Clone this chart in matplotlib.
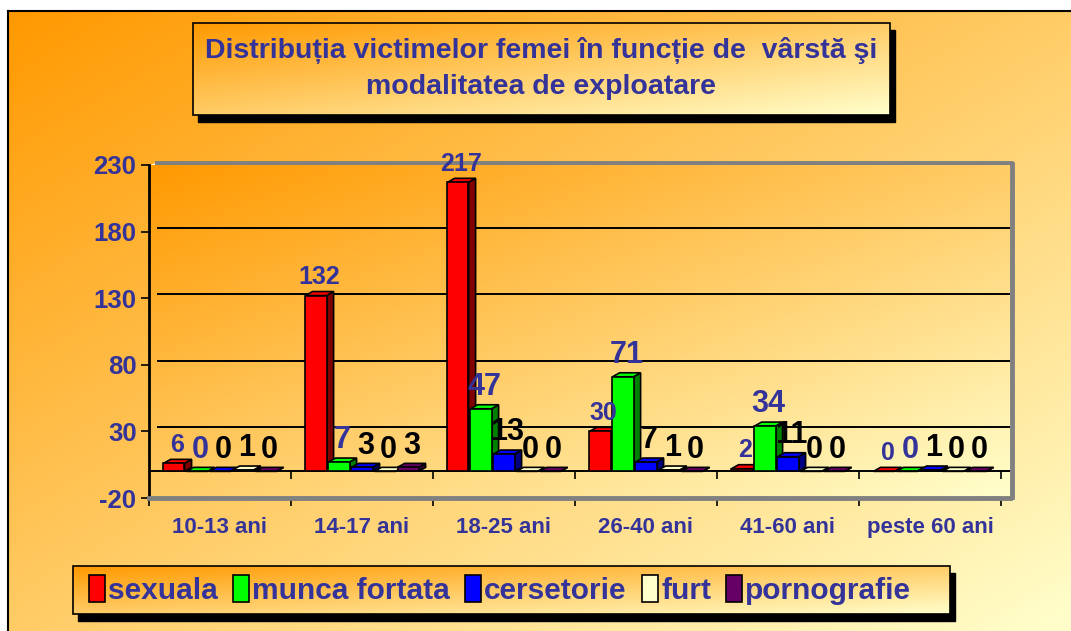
import numpy as np
import matplotlib
matplotlib.use('Agg')
import matplotlib.pyplot as plt
from matplotlib.patches import Rectangle, Polygon, Patch

plt.rcParams['font.family'] = ['Liberation Sans', 'DejaVu Sans']
plt.rcParams['font.weight'] = 'bold'

# date
categorii = ['10-13 ani', '14-17 ani', '18-25 ani', '26-40 ani', '41-60 ani', 'peste 60 ani']
serii = ['sexuala', 'munca fortata', 'cersetorie', 'furt', 'pornografie']
sexuala = [6, 132, 217, 30, 2, 0]
munca_fortata = [0, 7, 47, 71, 34, 0]
cersetorie = [0, 3, 13, 7, 11, 1]
furt = [1, 0, 0, 1, 0, 0]
pornografie = [0, 3, 0, 0, 0, 0]
valori = [sexuala, munca_fortata, cersetorie, furt, pornografie]

culori = ['#FF0000', '#00FF00', '#0000FF', '#FFFFCC', '#660066']
laterale = ['#800000', '#008000', '#000080', '#C8C8A8', '#330033']
culori_etichete = ['#333399', '#333399', 'black', 'black', 'black']
marimi_etichete = [18, 22, 22, 22, 22]
yticks = [-20, 30, 80, 130, 180, 230]

NAVY = '#333399'
W, H = 1071, 631


def gradient(n=256):
    x = np.linspace(0, 1, n)
    X, Y = np.meshgrid(x, x)
    t = ((X + Y) / 2)[..., None]
    c0 = np.array([1.0, 0.6, 0.0])
    c1 = np.array([1.0, 1.0, 0.8])
    return c0 + (c1 - c0) * t


fig = plt.figure(figsize=(W / 100, H / 100), dpi=100)
fig.patch.set_facecolor('white')

# fundal in pixeli
bg = fig.add_axes([0, 0, 1, 1])
bg.set_xlim(0, W)
bg.set_ylim(H, 0)
bg.axis('off')
bg.imshow(gradient(), extent=(8, W, H, 11), aspect='auto', zorder=0)
bg.plot([8, W], [11, 11], color='black', lw=1.5, zorder=1)
bg.plot([8, 8], [11, H], color='black', lw=1.5, zorder=1)

# caseta titlu
bg.add_patch(Rectangle((198, 30), 697, 92, color='black', zorder=2))
bg.imshow(gradient(), extent=(193, 890, 115, 23), aspect='auto', zorder=3)
bg.add_patch(Rectangle((193, 23), 697, 92, fill=False, ec='black', lw=1.2, zorder=4))
bg.text(541, 50, 'Distribuția victimelor femei în funcție de  vârstă şi', ha='center', va='center',
        color=NAVY, fontsize=20.5, fontweight='bold', zorder=5)
bg.text(541, 87, 'modalitatea de exploatare', ha='center', va='center',
        color=NAVY, fontsize=20.5, fontweight='bold', zorder=5)

# caseta legenda
bg.add_patch(Rectangle((78, 573), 877, 48, color='black', zorder=2))
bg.imshow(gradient(), extent=(73, 950, 614, 566), aspect='auto', zorder=3)
bg.add_patch(Rectangle((73, 566), 877, 48, fill=False, ec='black', lw=1.2, zorder=4))

# peretele graficului
bg.fill_between([149, 157], [165, 163], [498, 495], color='#FFFFD8', zorder=5)
bg.plot([157, 1012, 1012], [163, 163, 497], color='#808080', lw=3.5, zorder=6, solid_capstyle='projecting')
bg.plot([157, 157], [163, 495], color='#808080', lw=3.5, zorder=6)

ax = fig.add_axes([149 / W, 1 - 498 / H, (1010 - 149) / W, (498 - 165) / H])
ax.imshow(gradient(), extent=(0, 1, 0, 1), transform=ax.transAxes, aspect='auto', zorder=0)
ax.set_facecolor('none')

x = np.arange(len(categorii))
pas = 0.162
lat = 0.148
dx = 0.05
dy = 3.0
xmax = 5.5 + 9 / 142

for v in yticks[1:]:
    ax.plot([-0.44, xmax], [v + dy, v + dy], color='black', lw=1.4, zorder=1)
ax.plot([-0.5, xmax], [0, 0], color='black', lw=1.4, zorder=1)
ax.vlines(np.arange(len(categorii) + 1) - 0.5, -6, 0, color='black', lw=1.2, zorder=1)

for i, (vals, c, cl) in enumerate(zip(valori, culori, laterale)):
    for j, v in enumerate(vals):
        x0 = x[j] + (i - 2) * pas - lat / 2
        x1 = x0 + lat
        z = 2 + i + j * 10
        ax.add_patch(Polygon([(x1, 0), (x1 + dx, dy), (x1 + dx, v + dy), (x1, v)],
                             closed=True, fc=cl, ec='black', lw=1.2, zorder=z))
        ax.add_patch(Polygon([(x0, v), (x0 + dx, v + dy), (x1 + dx, v + dy), (x1, v)],
                             closed=True, fc=c, ec='black', lw=1.2, zorder=z))
        ax.add_patch(Rectangle((x0, 0), lat, v, fc=c, ec='black', lw=1.2, zorder=z))
        ax.annotate(str(v), (x0 + lat / 2 + dx / 2, v + dy), xytext=(0, 2), textcoords='offset points',
                    ha='center', va='bottom', color=culori_etichete[i], fontsize=marimi_etichete[i],
                    fontweight='bold', zorder=100)

ax.set_xlim(-0.5, xmax)
ax.set_ylim(-20, 230)
ax.set_yticks(yticks)
ax.set_yticklabels([str(v) for v in yticks], color=NAVY, fontsize=18.5, fontweight='bold')
ax.set_xticks(np.arange(len(categorii) + 1) - 0.5)
ax.set_xticklabels([])
ax.set_xticks(x, minor=True)
ax.set_xticklabels(categorii, minor=True, color=NAVY, fontsize=16, fontweight='bold')
ax.tick_params(axis='x', which='major', direction='out', length=6, width=1.2, color='black')
ax.tick_params(axis='x', which='minor', length=0, pad=14)
ax.tick_params(axis='y', direction='out', length=6, width=1.2, color='black', pad=3)
for s in ['top', 'right']:
    ax.spines[s].set_visible(False)
ax.spines['left'].set_color('black')
ax.spines['left'].set_linewidth(2)
ax.spines['bottom'].set_color('#808080')
ax.spines['bottom'].set_linewidth(3.5)

handles = [Patch(fc=c, ec='black', lw=1.2) for c in culori]
leg = fig.legend(handles, serii, loc='center', bbox_to_anchor=(500 / W, 1 - 590 / H), ncol=5,
                 frameon=False, fontsize=21.5, handlelength=0.55, handleheight=1.0, handletextpad=0.1,
                 columnspacing=0.5)
for t in leg.get_texts():
    t.set_color(NAVY)
    t.set_fontweight('bold')

fig.savefig('out.png', dpi=100)
